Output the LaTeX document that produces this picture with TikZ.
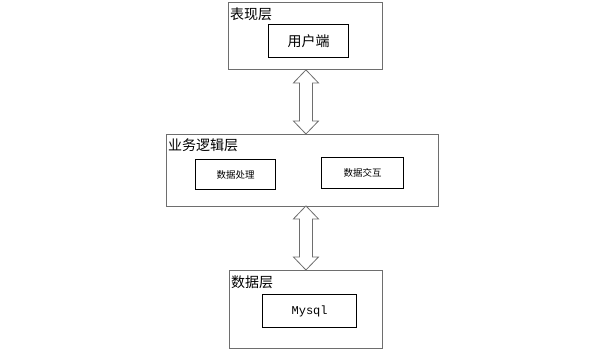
\documentclass[tikz,border=0pt]{standalone}
\usepackage{fontspec}
\newfontfamily\cjk{Noto Sans CJK SC}
\setmonofont{Liberation Mono}
\usetikzlibrary{calc}
\definecolor{edge}{RGB}{110,110,110}
\newcommand\dblarr[2]{%
  \draw[arrbody] let \p1=#1, \p2=#2 in
    (\x1,\y1) -- (\x1+12.5pt,\y1-13pt) -- (\x1+6.5pt,\y1-13pt) -- (\x1+6.5pt,\y2+13pt)
    -- (\x1+12.5pt,\y2+13pt) -- (\x1,\y2) -- (\x1-12.5pt,\y2+13pt) -- (\x1-6.5pt,\y2+13pt)
    -- (\x1-6.5pt,\y1-13pt) -- (\x1-12.5pt,\y1-13pt) -- cycle;}
\begin{document}
\begin{tikzpicture}[x=1pt,y=-1pt,
  layer/.style={draw=edge, line width=0.9pt, fill=white, rectangle, inner sep=0, anchor=north west},
  inbox/.style={draw=black, line width=1.3pt, fill=white, rectangle, inner sep=0, anchor=north west},
  title/.style={anchor=west, inner sep=0, font=\cjk\fontsize{14}{14}\selectfont},
  small/.style={font=\cjk\fontsize{9.5}{10}\selectfont},
  big/.style={font=\cjk\fontsize{14}{14}\selectfont},
  arrbody/.style={draw=edge, line width=0.8pt, fill=white, line join=miter}]
\useasboundingbox (0,0) rectangle (603,356);
% presentation layer
\node[layer, minimum width=154, minimum height=67] (pres) at (228,2) {};
\node[title] (prest) at ($(pres.north west)+(2,12)$) {表现层};
\node[inbox, minimum width=80, minimum height=33, big] (client) at (268,24) {用户端};
% logic layer
\node[layer, minimum width=272, minimum height=72] (logic) at (166,134) {};
\node[title] (logict) at ($(logic.north west)+(2,11)$) {业务逻辑层};
\node[inbox, minimum width=80, minimum height=30, small] (proc) at (195,159) {数据处理};
\node[inbox, minimum width=82, minimum height=31, small] (inter) at (321,157) {数据交互};
% data layer
\node[layer, minimum width=153, minimum height=78] (data) at (229,270) {};
\node[title] (datat) at ($(data.north west)+(2,12)$) {数据层};
\node[inbox, minimum width=94, minimum height=33, font=\ttfamily\fontsize{12}{12}\selectfont] (mysql) at (262,294) {Mysql};
% connectors
\coordinate (a1) at ($(pres.south)+(0.5,0)$);
\coordinate (a2) at (a1 |- logic.north);
\dblarr{(a1)}{(a2)}
\coordinate (b2) at (data.north);
\coordinate (b1) at ($(b2 |- logic.south)+(0,-1)$);
\dblarr{(b1)}{(b2)}
\end{tikzpicture}
\end{document}
